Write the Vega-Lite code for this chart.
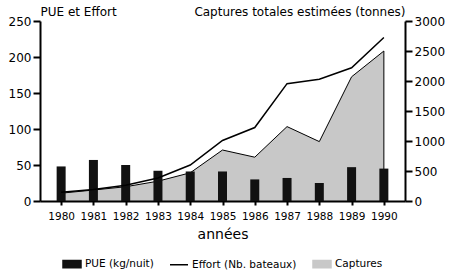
{
  "$schema": "https://vega.github.io/schema/vega-lite/v6.json",
  "width": 365,
  "height": 180,
  "autosize": {"type": "none"},
  "padding": {"left": 40, "top": 21, "right": 45, "bottom": 69},
  "background": "white",
  "data": {
    "values": [
      {"year": 1980, "pue": 48, "effort": 12, "captures": 130},
      {"year": 1981, "pue": 57, "effort": 16, "captures": 183},
      {"year": 1982, "pue": 50, "effort": 22, "captures": 238},
      {"year": 1983, "pue": 42, "effort": 32, "captures": 330},
      {"year": 1984, "pue": 41, "effort": 50, "captures": 470},
      {"year": 1985, "pue": 41, "effort": 84, "captures": 850},
      {"year": 1986, "pue": 30, "effort": 102, "captures": 730},
      {"year": 1987, "pue": 32, "effort": 163, "captures": 1240},
      {"year": 1988, "pue": 25, "effort": 169, "captures": 990},
      {"year": 1989, "pue": 47, "effort": 185, "captures": 2070},
      {"year": 1990, "pue": 45, "effort": 227, "captures": 2500}
    ]
  },
  "config": {
    "view": {"stroke": null},
    "font": "DejaVu Sans",
    "axis": {
      "domainColor": "#000", "domainWidth": 2, "tickColor": "#000", "tickWidth": 2,
      "labelColor": "#000", "titleColor": "#000", "labelFont": "DejaVu Sans", "titleFont": "DejaVu Sans",
      "titleFontWeight": "normal", "labelFontSize": 12, "titleFontSize": 12
    },
    "axisLeft": {
      "values": [0, 50, 100, 150, 200, 250], "grid": true, "gridColor": "#000", "gridWidth": 2, "gridOpacity": 1,
      "tickSize": 7, "labelPadding": 2, "titleAngle": 0, "titleAlign": "left", "titleBaseline": "alphabetic",
      "titleX": 0, "titleY": -6, "format": "d"
    },
    "axisRight": {
      "values": [0, 600, 1200, 1800, 2400, 3000], "grid": false, "format": "d",
      "tickSize": 7, "labelPadding": 2, "titleAngle": 0, "titleAlign": "right", "titleBaseline": "alphabetic",
      "titleX": 0, "titleY": -6
    },
    "axisBottom": {
      "values": [1980, 1981, 1982, 1983, 1984, 1985, 1986, 1987, 1988, 1989, 1990],
      "format": "d", "grid": false, "tickSize": 4, "labelPadding": 6, "labelFontSize": 10.5,
      "labelFlush": false, "titleFontSize": 14, "titlePadding": 6
    }
  },
  "layer": [
    {
      "mark": {"type": "area", "stroke": "#000", "strokeWidth": 1},
      "encoding": {
        "x": {"field": "year", "type": "quantitative", "title": "années",
              "scale": {"domain": [1979.5, 1990.5], "nice": false, "zero": false}},
        "y": {"field": "captures", "type": "quantitative", "title": "Captures totales estimées (tonnes)",
              "scale": {"domain": [0, 3000], "nice": false}, "axis": {"orient": "right"}},
        "color": {
          "datum": "Captures", "type": "nominal",
          "scale": {"domain": ["PUE (kg/nuit)", "Effort (Nb. bateaux)", "Captures"], "range": ["#111111", "#000000", "#c8c8c8"]},
          "legend": {
            "orient": "none", "legendX": 22, "legendY": 233, "direction": "horizontal", "title": null,
            "labelFont": "DejaVu Sans", "labelFontSize": 10.5, "labelColor": "#000",
            "symbolSize": 324, "columnPadding": 13, "labelOffset": 3,
            "symbolStrokeWidth": 1.5,
            "symbolType": {"expr": "datum.value === 'Effort (Nb. bateaux)' ? 'stroke' : 'M-1,-0.4H1V0.4H-1Z'"}
          }
        }
      }
    },
    {
      "layer": [
        {
          "mark": {"type": "bar", "size": 9},
          "encoding": {
            "x": {"field": "year", "type": "quantitative"},
            "y": {"field": "pue", "type": "quantitative", "title": "PUE et Effort",
                  "scale": {"domain": [0, 250], "nice": false}, "axis": {"orient": "left"}},
            "color": {"datum": "PUE (kg/nuit)", "type": "nominal"}
          }
        },
        {
          "mark": {"type": "line", "strokeWidth": 1.5},
          "encoding": {
            "x": {"field": "year", "type": "quantitative"},
            "y": {"field": "effort", "type": "quantitative", "title": "PUE et Effort"},
            "color": {"datum": "Effort (Nb. bateaux)", "type": "nominal"}
          }
        }
      ]
    }
  ],
  "resolve": {"scale": {"y": "independent"}}
}
